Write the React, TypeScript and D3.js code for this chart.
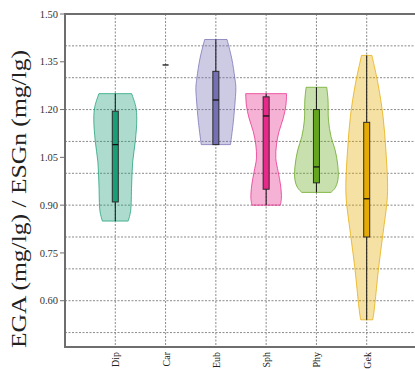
import React from "react";
import * as d3 from "d3";

// Groups along the x axis
const categories = ["Dip", "Car", "Eub", "Sph", "Phy", "Gek"];

// Box-plot summaries per group
const mins = [0.85, 1.34, 1.09, 0.9, 0.94, 0.54];
const q1s = [0.91, 1.34, 1.09, 0.95, 0.97, 0.8];
const medians = [1.09, 1.34, 1.23, 1.18, 1.02, 0.92];
const q3s = [1.195, 1.34, 1.32, 1.24, 1.2, 1.16];
const maxs = [1.25, 1.34, 1.42, 1.25, 1.27, 1.37];

// Density profiles (value level, relative density) per group
const dipLevels = [1.25, 1.21, 1.17, 1.1, 1.036, 0.963, 0.88, 0.85];
const dipDensity = [0.76, 0.95, 1.0, 0.93, 0.81, 0.76, 0.71, 0.6];
const carLevels: number[] = [];
const carDensity: number[] = [];
const eubLevels = [1.42, 1.36, 1.3, 1.27, 1.23, 1.16, 1.09];
const eubDensity = [0.52, 0.74, 0.88, 0.93, 0.9, 0.81, 0.68];
const sphLevels = [1.25, 1.214, 1.174, 1.131, 1.089, 1.047, 1.005, 0.963, 0.921, 0.9];
const sphDensity = [0.95, 0.92, 0.8, 0.6, 0.48, 0.45, 0.56, 0.67, 0.71, 0.66];
const phyLevels = [1.27, 1.23, 1.167, 1.115, 1.073, 1.021, 0.979, 0.955, 0.94];
const phyDensity = [0.48, 0.54, 0.56, 0.68, 0.87, 1.0, 1.0, 0.88, 0.68];
const gekLevels = [1.37, 1.283, 1.178, 1.073, 0.969, 0.916, 0.812, 0.707, 0.603, 0.561, 0.54];
const gekDensity = [0.24, 0.52, 0.76, 0.89, 0.97, 0.95, 0.76, 0.56, 0.4, 0.33, 0.28];

const levelSets = [dipLevels, carLevels, eubLevels, sphLevels, phyLevels, gekLevels];
const densitySets = [dipDensity, carDensity, eubDensity, sphDensity, phyDensity, gekDensity];

const colors = ["#1b9e77", "#d95f02", "#7570b3", "#e7298a", "#66a61e", "#e6ab02"];

const yTicks = [1.5, 1.35, 1.2, 1.05, 0.9, 0.75, 0.6];
const yGrid = [1.4, 1.3, 1.2, 1.1, 1.0, 0.9, 0.8, 0.7, 0.6, 0.5];

const W = 415;
const H = 369;
const left = 65;
const top = 14;
const bottom = 347;
const right = 417;

export default function App() {
  const y = d3.scaleLinear().domain([0.4547, 1.5]).range([bottom, top]);
  const x = d3.scalePoint<string>().domain(categories).range([left, right]).padding(1);
  const halfW = d3.scaleLinear().domain([0, 1]).range([0, 21.5]);
  const serif = "Liberation Serif";

  return (
    <svg
      width={W}
      height={H}
      style={{ position: "fixed", left: 0, top: 0, background: "#fff" }}
      fontFamily={serif}
    >
      {/* grid */}
      <g stroke="#8a8a8a" strokeWidth={1} strokeDasharray="2,1.5">
        {yGrid.map((v) => (
          <line key={"h" + v} x1={left} x2={W} y1={y(v)} y2={y(v)} />
        ))}
        {categories.map((c) => (
          <line key={"v" + c} x1={x(c)} x2={x(c)} y1={top} y2={bottom} />
        ))}
      </g>

      {/* violins */}
      {categories.map((c, i) => {
        const cx = x(c) as number;
        const levels = levelSets[i];
        const dens = densitySets[i];
        const pts = levels.map((v, k) => ({ v, d: dens[k] }));
        const area = d3
          .area<{ v: number; d: number }>()
          .y((p) => y(p.v))
          .x0((p) => cx - halfW(p.d))
          .x1((p) => cx + halfW(p.d))
          .curve(d3.curveCatmullRom.alpha(0.5));
        const bw = 6;
        return (
          <g key={c}>
            {pts.length > 0 && (
              <path
                d={area(pts) || ""}
                fill={colors[i]}
                fillOpacity={0.36}
                stroke={colors[i]}
                strokeOpacity={0.75}
                strokeWidth={1}
              />
            )}
            {pts.length > 0 && (
              <line x1={cx} x2={cx} y1={y(mins[i])} y2={y(maxs[i])} stroke="#111" strokeWidth={1} />
            )}
            {q3s[i] > q1s[i] && (
              <rect
                x={cx - bw / 2}
                y={y(q3s[i])}
                width={bw}
                height={y(q1s[i]) - y(q3s[i])}
                fill={colors[i]}
                stroke="#2a2a2a"
                strokeWidth={1}
              />
            )}
            <line
              x1={cx - bw / 2}
              x2={cx + bw / 2}
              y1={y(medians[i])}
              y2={y(medians[i])}
              stroke="#111"
              strokeWidth={1.3}
            />
          </g>
        );
      })}

      {/* frame */}
      <g stroke="#6e6e6e" strokeWidth={2} fill="none">
        <line x1={left} x2={left} y1={top - 1} y2={bottom + 1} />
        <line x1={left} x2={W} y1={top} y2={top} />
        <line x1={left} x2={W} y1={bottom} y2={bottom} />
      </g>

      {/* y ticks */}
      {yTicks.map((v) => (
        <g key={"t" + v}>
          <line x1={left - 5} x2={left} y1={y(v)} y2={y(v)} stroke="#6e6e6e" strokeWidth={1} />
          <text x={left - 7} y={y(v)} dy="0.35em" textAnchor="end" fontSize={10.5} fill="#333">
            {v.toFixed(2)}
          </text>
        </g>
      ))}

      {/* x labels */}
      {categories.map((c) => (
        <text
          key={"l" + c}
          transform={`translate(${(x(c) as number) + 4},${bottom + 5}) rotate(-90)`}
          textAnchor="end"
          fontSize={10}
          fill="#222"
        >
          {c}
        </text>
      ))}

      {/* y title */}
      <text
        transform={`translate(26,${199}) rotate(-90)`}
        textAnchor="middle"
        fontSize={21.5}
        fill="#222"
        textLength={298}
        lengthAdjust="spacingAndGlyphs"
      >
        EGA (mg/lg) / ESGn (mg/lg)
      </text>
    </svg>
  );
}
